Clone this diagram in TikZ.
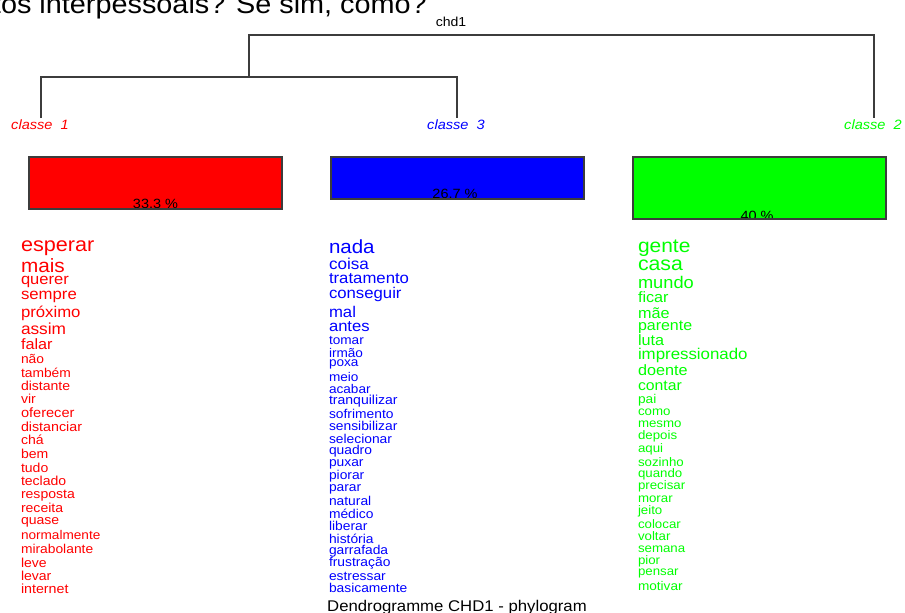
\documentclass[tikz,border=0pt]{standalone}
\usepackage{fontspec}
\setmainfont{Liberation Sans}[FakeStretch=1.08]
\definecolor{cred}{RGB}{255,0,0}
\definecolor{cblue}{RGB}{0,0,255}
\definecolor{cgreen}{RGB}{0,255,0}
\definecolor{lgray}{RGB}{60,60,60}
\newcommand{\fs}[1]{\fontsize{#1}{#1}\selectfont}
\tikzset{
  word/.style={anchor=mid west, inner sep=0pt, outer sep=0pt},
  dendro/.style={draw=lgray, line width=1.3pt},
  boxline/.style={draw=lgray, line width=1.1pt},
  pct/.style={anchor=base, inner sep=0pt, font=\fs{13.4}, text=black},
  clabel/.style={anchor=base, inner sep=0pt, font=\fs{13.5}\itshape},
}
\begin{document}
\begin{tikzpicture}[x=1pt,y=-1pt]
\useasboundingbox (0,0) rectangle (905,613);
\clip (0,0) rectangle (905,613);
\fill[white] (0,0) rectangle (905,613);

% top cut-off text
\node[anchor=base east, inner sep=0pt, font=\fs{26.7}] (toptext) at (427,13) {tos interpessoais? Se sim, como?};

% dendrogram
\node[anchor=base, inner sep=0pt, font=\fs{13}] (chd) at (451,26) {chd1};
\coordinate (t1) at (41,118);
\coordinate (t3) at (457,118);
\coordinate (t2) at (874,118);
\coordinate (j13) at (249,77);
\coordinate (topm) at (451,35);
\draw[dendro] (t1) |- (j13) -| (t3);
\draw[dendro] (j13) |- (topm) -| (t2);
\node[clabel, text=cred] (l1) at (40,129) {classe\hspace{0.6em}1};
\node[clabel, text=cblue] (l3) at (456,129) {classe\hspace{0.6em}3};
\node[clabel, text=cgreen] (l2) at (873,129) {classe\hspace{0.6em}2};

% boxes
\coordinate (b1a) at (29,157); \coordinate (b1b) at (282,209);
\coordinate (b3a) at (331,157); \coordinate (b3b) at (584,199);
\coordinate (b2a) at (633,157); \coordinate (b2b) at (886,219);
\fill[cred] (b1a) rectangle (b1b);
\fill[cblue] (b3a) rectangle (b3b);
\fill[cgreen] (b2a) rectangle (b2b);
\begin{scope}
  \clip (b1a) rectangle (b1b);
  \node[pct] (p1) at (155.5,208.7) {33.3 \%};
\end{scope}
\begin{scope}
  \clip (b3a) rectangle (b3b);
  \node[pct] (p3) at (455,198.7) {26.7 \%};
\end{scope}
\begin{scope}
  \clip (b2a) rectangle (b2b);
  \node[pct] (p2) at (757,220.5) {40 \%};
\end{scope}
\draw[boxline] (b1a) rectangle (b1b);
\draw[boxline] (b3a) rectangle (b3b);
\draw[boxline] (b2a) rectangle (b2b);

% class 1 words
\foreach \w/\y/\s [count=\i] in {esperar/245/20, mais/266/19.2, querer/279/15.3,
  sempre/294/15.5, próximo/312/15.5, assim/329/16, falar/344/15,
  não/358/12.8, também/372/12.8, distante/385/13, vir/398/13,
  oferecer/412/13.5, distanciar/426/13.2, chá/439/13, bem/453/13,
  tudo/467/13, teclado/480/13, resposta/493/13, receita/507/13,
  quase/519/13, normalmente/534/12.6, mirabolante/548/12.8, leve/562/13,
  levar/575/13, internet/588/13.2}
  { \node[word, text=cred, font=\fs{\s}] (r\i) at (21,{\y+0.2*\s}) {\w}; }

% class 3 words
\foreach \w/\y/\s [count=\i] in {nada/247/19, coisa/264/15.8, tratamento/278/15.5,
  conseguir/293/15.5, mal/312/15.5, antes/326/15.4, tomar/339/12.6,
  irmão/352/12.6, poxa/361/12.6, meio/376/12.6, acabar/388/12.6,
  tranquilizar/399/13, sofrimento/413/12.8, sensibilizar/425/12.8,
  selecionar/438/12.8, quadro/449/12.8, puxar/461/12.8, piorar/474/12.8,
  parar/486/12.8, natural/500/12.8, médico/513/12.8, liberar/525/12.8,
  história/538/12.8, garrafada/549/12.8, frustração/561/12.8,
  estressar/575/12.8, basicamente/587/12.8}
  { \node[word, text=cblue, font=\fs{\s}] (u\i) at (329,{\y+0.2*\s}) {\w}; }

% class 2 words
\foreach \w/\y/\s [count=\i] in {gente/246/19.4, casa/264/19.7, mundo/282/16.9,
  ficar/297/15, mãe/313/15, parente/325/14.8, luta/340/15,
  impressionado/354/15.6, doente/370/15, contar/385/14.6, pai/398/12.7,
  como/410/12.3, mesmo/422/12.3, depois/434/12.3, aqui/447/12.3,
  sozinho/461/12.3, quando/472/12.3, precisar/484/12.3, morar/497/12.3,
  jeito/509/12.3, colocar/523/12.3, voltar/535/12.3, semana/547/12.3,
  pior/559/12.3, pensar/570/12.3, motivar/585/12.6}
  { \node[word, text=cgreen, font=\fs{\s}] (g\i) at (638,{\y+0.2*\s}) {\w}; }

% caption
\node[anchor=base west, inner sep=0pt, font=\fs{15.5}] (caption) at (327,611) {Dendrogramme CHD1 - phylogram};
\end{tikzpicture}
\end{document}
